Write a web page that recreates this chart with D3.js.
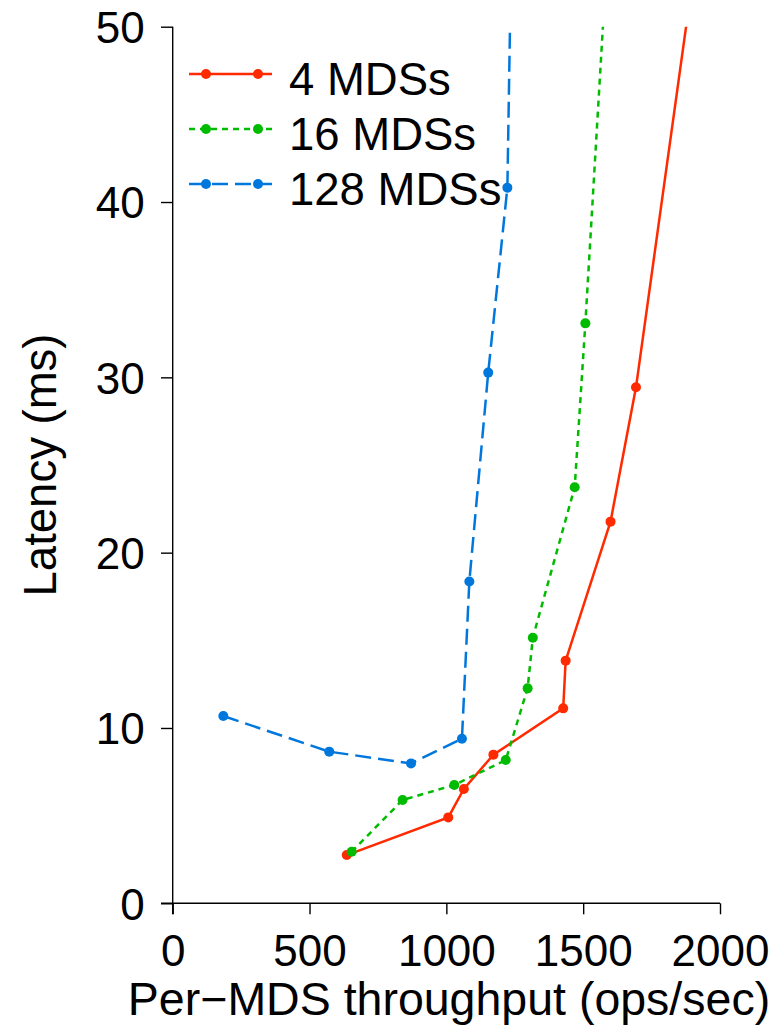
<!DOCTYPE html>
<html lang="en">
<head>
    <meta charset="UTF-8" />
    <title>Per-MDS throughput vs latency</title>
    <script src="https://d3js.org/d3.v7.min.js"></script>
    <style>
        body { margin: 0; background: #fff; }
        text { font-family: "Liberation Sans", Arial, Helvetica, sans-serif; fill: #000; }
    </style>
</head>
<body>
    <script>
        // data: throughput (ops/sec) and latency (ms)
        const seriesNames = ['4 MDSs', '16 MDSs', '128 MDSs'];
        const mds4 = [
            [636, 2.75], [1007, 4.9], [1064, 6.52], [1172, 8.48], [1427, 11.12],
            [1436, 13.84], [1600, 21.77], [1693, 29.43], [1965, 60]
        ];
        const mds16 = [
            [654, 2.94], [840, 5.89], [1029, 6.75], [1217, 8.17], [1297, 12.26],
            [1316, 15.15], [1469, 23.73], [1508, 33.08], [1610, 60]
        ];
        const mds128 = [
            [185, 10.68], [572, 8.65], [871, 7.98], [1057, 9.39], [1084, 18.35],
            [1153, 30.27], [1223, 40.82], [1243, 60]
        ];
        const xTicks = [0, 500, 1000, 1500, 2000];
        const yTicks = [0, 10, 20, 30, 40, 50];

        const colors = ['#ff2a00', '#00bb00', '#0077dd'];
        const dashes = [null, '6,5', '16,7'];
        const allSeries = [mds4, mds16, mds128];

        const width = 780, height = 1027;
        const mLeft = 172.7, mRight = 720, mTop = 26.7, mBottom = 903.3;

        const svg = d3.select('body').append('svg')
            .attr('width', width).attr('height', height);

        const x = d3.scaleLinear().domain([0, 2000]).range([mLeft, mRight]);
        const y = d3.scaleLinear().domain([0, 50]).range([mBottom, mTop]);

        svg.append('clipPath').attr('id', 'plot')
            .append('rect')
            .attr('x', mLeft - 20).attr('y', mTop)
            .attr('width', mRight - mLeft + 40).attr('height', mBottom - mTop + 20);

        // axes (R style: lines run only between end ticks)
        const xAxis = svg.append('g').attr('transform', `translate(0,${mBottom})`)
            .call(d3.axisBottom(x).tickValues(xTicks).tickSize(11).tickFormat(d3.format('d')));
        xAxis.select('.domain').attr('d', `M${mLeft - 11.7},0H${mRight}`);
        xAxis.selectAll('text').attr('font-size', 44).attr('dy', null).attr('y', 63)
            .style('font-family', '"Liberation Sans", Arial, sans-serif');

        const yAxis = svg.append('g').attr('transform', `translate(${mLeft},0)`)
            .call(d3.axisLeft(y).tickValues(yTicks).tickSize(11.7));
        yAxis.select('.domain').attr('d', `M0,${mTop}V${mBottom + 11}`);
        yAxis.selectAll('text').attr('font-size', 44).attr('x', -28).attr('dy', '0.36em')
            .style('font-family', '"Liberation Sans", Arial, sans-serif');
        svg.selectAll('.domain, .tick line').attr('stroke', '#000').attr('stroke-width', 1.4);

        // axis titles
        svg.append('text')
            .attr('x', 449).attr('y', 1015)
            .attr('text-anchor', 'middle').attr('font-size', 46.5)
            .text('Per\u2212MDS throughput (ops/sec)');
        svg.append('text')
            .attr('transform', `translate(56,${(mTop + mBottom) / 2}) rotate(-90)`)
            .attr('text-anchor', 'middle').attr('font-size', 45.5)
            .text('Latency (ms)');

        // series
        const line = d3.line().x(d => x(d[0])).y(d => y(d[1]));
        const plot = svg.append('g').attr('clip-path', 'url(#plot)');
        allSeries.forEach((data, i) => {
            plot.append('path')
                .datum(data)
                .attr('d', line)
                .attr('fill', 'none')
                .attr('stroke', colors[i])
                .attr('stroke-width', 2.5)
                .attr('stroke-dasharray', dashes[i]);
            plot.selectAll(null)
                .data(data)
                .enter()
                .append('circle')
                .attr('cx', d => x(d[0]))
                .attr('cy', d => y(d[1]))
                .attr('r', 5)
                .attr('fill', colors[i]);
        });

        // legend
        const legend = svg.append('g');
        seriesNames.forEach((name, i) => {
            const ly = 74 + i * 55;
            legend.append('line')
                .attr('x1', 189).attr('x2', 272).attr('y1', ly).attr('y2', ly)
                .attr('stroke', colors[i]).attr('stroke-width', 2.5)
                .attr('stroke-dasharray', dashes[i]);
            [206, 258].forEach(cx => {
                legend.append('circle').attr('cx', cx).attr('cy', ly).attr('r', 5).attr('fill', colors[i]);
            });
            legend.append('text')
                .attr('x', 289).attr('y', ly + 21)
                .attr('font-size', 45.5)
                .text(name);
        });
    </script>
</body>
</html>
